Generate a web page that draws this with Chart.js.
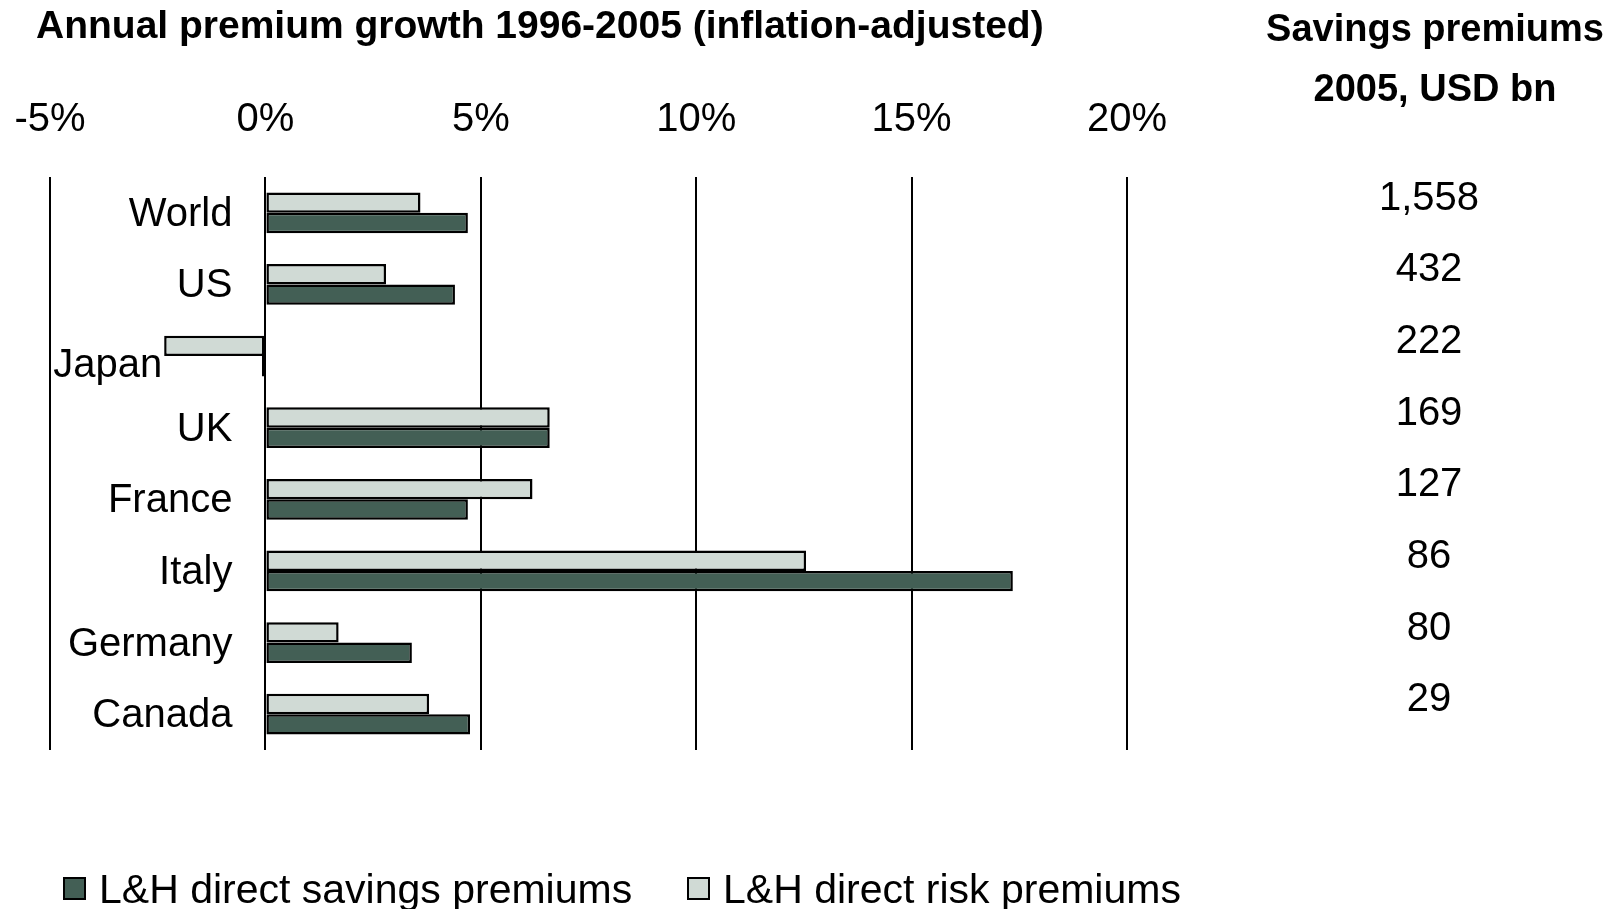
<!DOCTYPE html>
<html>
<head>
<meta charset="utf-8">
<script src="https://cdn.jsdelivr.net/npm/chart.js@4.4.1/dist/chart.umd.min.js"></script>
<style>
  body { margin: 0; background: #fff; }
  canvas { display: block; }
</style>
</head>
<body>
<canvas id="chart-premiums" width="1616" height="909"></canvas>
<script>
// Data
const categories = ['World', 'US', 'Japan', 'UK', 'France', 'Italy', 'Germany', 'Canada'];
const savingsGrowth = [4.7, 4.4, -0.08, 6.6, 4.7, 17.35, 3.4, 4.75];
const riskGrowth = [3.6, 2.8, -2.35, 6.6, 6.2, 12.55, 1.7, 3.8];
const savingsPremiums2005 = ['1,558', '432', '222', '169', '127', '86', '80', '29'];
const chartTitle = 'Annual premium growth 1996-2005 (inflation-adjusted)';
const sideHeader = ['Savings premiums', '2005, USD bn'];
const seriesNames = ['L&H direct risk premiums', 'L&H direct savings premiums'];

const FONT = '"Liberation Sans", Arial, sans-serif';
const DARK = '#435F55';
const LIGHT = '#D0DAD5';

// Texts that Chart.js cannot place on its own: title, side column, labels, legend
const textoExtra = {
  id: 'textoExtra',
  afterDraw(chart) {
    const { ctx, scales: { x, y } } = chart;
    ctx.save();
    ctx.fillStyle = '#000';
    ctx.textBaseline = 'middle';

    ctx.font = 'bold 39px ' + FONT;
    ctx.textAlign = 'left';
    ctx.fillText(chartTitle, 36, 27);
    ctx.font = 'bold 38px ' + FONT;
    ctx.textAlign = 'center';
    ctx.fillText(sideHeader[0], 1435, 31);
    ctx.fillText(sideHeader[1], 1435, 91);

    ctx.font = '40px ' + FONT;
    savingsPremiums2005.forEach((v, i) => {
      ctx.fillText(v, 1429, y.getPixelForValue(i) - 14);
    });

    // category labels sit left of the zero line, or left of a negative bar
    ctx.textAlign = 'right';
    categories.forEach((c, i) => {
      const minVal = Math.min(0, savingsGrowth[i], riskGrowth[i]);
      let px = x.getPixelForValue(0) - 33;
      let py = y.getPixelForValue(i) + 2;
      if (minVal < -1) {
        px = x.getPixelForValue(minVal) - 2;
        py += 8;
      }
      ctx.fillText(c, px, py);
    });

    // legend (savings first, then risk)
    const items = [
      { color: chart.data.datasets[1].backgroundColor, label: chart.data.datasets[1].label, x: 64 },
      { color: chart.data.datasets[0].backgroundColor, label: chart.data.datasets[0].label, x: 688 }
    ];
    ctx.font = '41px ' + FONT;
    ctx.textAlign = 'left';
    items.forEach(it => {
      ctx.fillStyle = it.color;
      ctx.fillRect(it.x, 878, 21, 21);
      ctx.strokeStyle = '#000';
      ctx.lineWidth = 2;
      ctx.strokeRect(it.x, 878, 21, 21);
      ctx.fillStyle = '#000';
      ctx.fillText(it.label, it.x + 35, 892);
    });
    ctx.restore();
  }
};

const config = {
  type: 'bar',
  data: {
    labels: categories,
    datasets: [
      {
        label: seriesNames[0],
        data: riskGrowth,
        backgroundColor: LIGHT,
        borderColor: '#000',
        borderWidth: 2.5,
        borderSkipped: false
      },
      {
        label: seriesNames[1],
        data: savingsGrowth,
        backgroundColor: DARK,
        borderColor: '#000',
        borderWidth: 2.5,
        borderSkipped: false
      }
    ]
  },
  options: {
    indexAxis: 'y',
    responsive: false,
    animation: false,
    layout: { padding: { left: 50, right: 489, top: 63, bottom: 159 } },
    datasets: { bar: { categoryPercentage: 0.57, barPercentage: 1 } },
    scales: {
      x: {
        position: 'top',
        min: -5,
        max: 20,
        // let the -5% label hang over the left padding instead of pushing the plot
        afterFit: s => { s.paddingLeft = 0; s.paddingRight = 0; },
        ticks: {
          stepSize: 5,
          padding: 33,
          color: '#000',
          font: { family: FONT, size: 40 },
          callback: v => v + '%'
        },
        grid: { color: '#000', lineWidth: 2, drawTicks: false },
        border: { display: false }
      },
      y: { display: false }
    },
    plugins: {
      legend: { display: false },
      tooltip: { enabled: false }
    }
  },
  plugins: [textoExtra]
};

new Chart(document.getElementById('chart-premiums'), config);
</script>
</body>
</html>
